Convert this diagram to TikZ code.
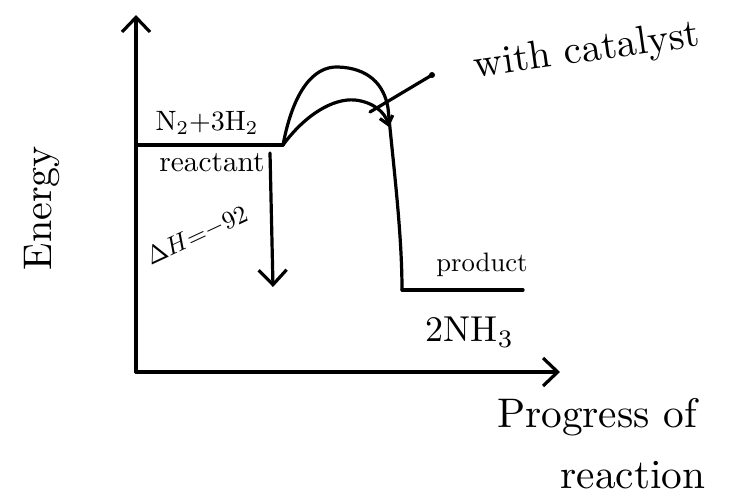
\documentclass[tikz,border=0pt]{standalone}
\usetikzlibrary{arrows.meta}

\tikzset{every picture/.style={line width=2.4pt}}
\tikzset{pen/.style={line cap=round,line join=round},
  bigtip/.style={-{Straight Barb[length=11pt,width=21pt,line width=2.4pt]}},
  smalltip/.style={-{Straight Barb[length=6pt,width=10pt,line width=2.4pt]}}}

\begin{document}
\begin{tikzpicture}[x=0.75pt,y=0.75pt,yscale=-1,xscale=1]
\path (0,0) rectangle (731,499); %keep the page size

%Coordinates
\coordinate (O) at (136,372);
\coordinate (ytop) at (136,15);
\coordinate (xend) at (560,372);
\coordinate (rL) at (136,145);
\coordinate (rR) at (283,145);
\coordinate (pL) at (402,290);
\coordinate (pR) at (523,290);
\coordinate (dhA) at (270,153);
\coordinate (dhB) at (273,287);
\coordinate (dot) at (432,75);
\coordinate (pt) at (370,112);

%Axes
\draw [pen,bigtip] (O) -- (ytop);
\draw [pen,bigtip] (O) -- (xend);

%Energy levels
\draw [pen] (rL) -- (rR);
\draw [pen] (pL) -- (pR);

%Uncatalysed hump
\draw [pen] (rR) .. controls (293,92) and (313,66) .. (338,67) .. controls (368,68) and (384,84) .. (388,108) .. controls (394,170) and (402,235) .. (pL);

%Catalysed hump
\draw [pen,smalltip] (rR) .. controls (305,115) and (333,98) .. (355,100) .. controls (373,102) and (385,112) .. (389,127);

%Enthalpy change
\draw [pen,bigtip] (dhA) -- (dhB);

%Pointer
\draw [pen] (dot) -- (pt);
\fill (dot) circle (3);

% Text Node
\draw (207,123) node [scale=2.1] (reacteq) {N$_2$+3H$_2$};
% Text Node
\draw (212,163) node [scale=2.2] (reactlbl) {reactant};
% Text Node
\draw (197,236) node [scale=1.9,rotate=25] (dh) {$\Delta H{=}{-}92$};
% Text Node
\draw (482,265) node [scale=2] (prodlbl) {product};
% Text Node
\draw (470,332) node [scale=2.7] (prodeq) {2NH$_3$};
% Text Node
\draw (587,52) node [scale=3,rotate=8] (cat) {with catalyst};
% Text Node
\draw (42,208) node [scale=3,rotate=90] (energy) {Energy};
% Text Node
\draw (597,417) node [scale=3.1] (prog) {Progress of};
% Text Node
\draw (633,475) node [scale=3.1] (reac) {reaction};

\end{tikzpicture}
\end{document}
